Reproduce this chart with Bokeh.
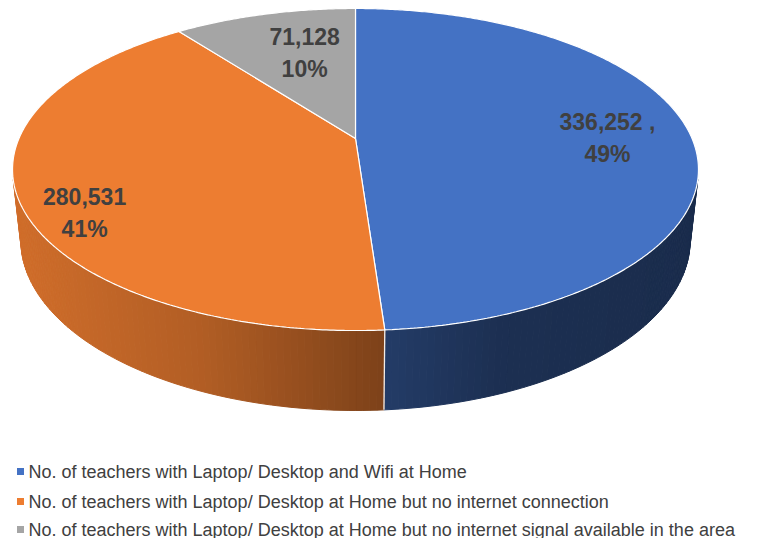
import numpy as np
from bokeh.plotting import figure
from bokeh.models import Range1d, ColumnDataSource
from bokeh.core.properties import value
from bokeh.embed import file_html
from bokeh.resources import INLINE

# ---------------- data ----------------
categories = [
    "No. of teachers with Laptop/ Desktop and Wifi at Home",
    "No. of teachers with Laptop/ Desktop at Home but no internet connection",
    "No. of teachers with Laptop/ Desktop at Home but no internet signal available in the area",
]
counts = [336252, 280531, 71128]
count_suffix = [" ,", "", ""]
colors = ["#4472C4", "#ED7D31", "#A5A5A5"]

# ---------------- style / geometry ----------------
W, H_FIG = 742, 538
CX, CY = 355.0, 138.0          # projected pie centre (screen px)
F, D = 1551.5, 4.61            # perspective constants
ALPHA = np.arcsin(0.4607)      # tilt
DEPTH = 0.2378                 # cylinder height (radius = 1)
ca, sa = np.cos(ALPHA), np.sin(ALPHA)
label_r = 0.75
label_nudge = [(1, 4), (-22, 31), (20, 11)]
FONT = "Liberation Sans"
TXT = "#404040"


def proj(theta, r=1.0, y=0.0):
    X = r * np.sin(theta)
    Z = r * np.cos(theta)
    depth = D + Z * ca - y * sa
    sx = CX + F * X / depth
    sy = CY - F * (y * ca + Z * sa) / depth
    return sx, sy


def shade(x):
    return np.interp(x, [12, 200, 383, 500, 698], [0.88, 0.75, 0.53, 0.42, 0.39])


def scale_color(hexc, f):
    r, g, b = int(hexc[1:3], 16), int(hexc[3:5], 16), int(hexc[5:7], 16)
    return "#%02x%02x%02x" % (int(r * f), int(g * f), int(b * f))


total = float(sum(counts))
fracs = np.array(counts) / total
ends = np.cumsum(fracs) * 2 * np.pi
starts = ends - fracs * 2 * np.pi

p = figure(width=W, height=H_FIG, output_backend="svg", toolbar_location=None,
           x_range=Range1d(0, W), y_range=Range1d(H_FIG, 0),
           min_border=0, outline_line_color=None)
p.axis.visible = False
p.grid.visible = False
p.background_fill_color = "white"

# ---- side wall strips ----
wx, wy, wc = [], [], []
for s, e, c in zip(starts, ends, colors):
    n = max(2, int(np.degrees(e - s)))
    th = np.linspace(s, e, n + 1)
    for a, b in zip(th[:-1], th[1:]):
        pax, pay = proj(a)
        pbx, pby = proj(b)
        qax, qay = proj(a, y=-DEPTH)
        qbx, qby = proj(b, y=-DEPTH)
        cross = (pbx - pax) * (qay - pay) - (pby - pay) * (qax - pax)
        if cross < 0:
            wx.append([pax, pbx, qbx, qax])
            wy.append([pay, pby, qby, qay])
            wc.append(scale_color(c, shade((pax + pbx) / 2)))
p.patches(xs="xs", ys="ys", source=ColumnDataSource(dict(xs=wx, ys=wy, c=wc)),
          fill_color="c", line_color="c", line_width=1)

# white edge where slices meet on the visible wall
for b in starts:
    tx, ty = proj(b)
    bx, by = proj(b, y=-DEPTH)
    ax_, ay_ = proj(b + 0.01)
    cross = (ax_ - tx) * (by - ty) - (ay_ - ty) * (bx - tx)
    if cross < 0:
        p.line([tx, bx], [ty, by], line_color="white", line_width=1.3, line_alpha=0.9)

# ---- top face ----
tx_list, ty_list = [], []
for s, e in zip(starts, ends):
    n = max(2, int(np.degrees(e - s)) * 2)
    th = np.linspace(s, e, n + 1)
    xs, ys = proj(th)
    tx_list.append([CX] + list(xs))
    ty_list.append([CY] + list(ys))
p.patches(xs="xs", ys="ys",
          source=ColumnDataSource(dict(xs=tx_list, ys=ty_list, c=colors)),
          fill_color="c", line_color="white", line_width=1.2)

# ---- data labels ----
lx, ly1, ly2, t1, t2 = [], [], [], [], []
for i, (s, e) in enumerate(zip(starts, ends)):
    mx, my = proj((s + e) / 2, r=label_r)
    mx += label_nudge[i][0]
    my += label_nudge[i][1]
    lx.append(mx)
    ly1.append(my - 16)
    ly2.append(my + 16)
    t1.append(f"{counts[i]:,}" + count_suffix[i])
    t2.append(f"{round(100 * fracs[i])}%")
for yy, tt in ((ly1, t1), (ly2, t2)):
    p.text(x=lx, y=yy, text=tt, text_font=value(FONT), text_font_size="23px",
           text_font_style="bold", text_color=TXT, text_align="center",
           text_baseline="middle")

# ---- legend ----
leg_y = [471, 501, 529]
p.scatter(x=[20] * 3, y=leg_y, marker="square", size=7, fill_color=colors,
          line_color=None)
p.text(x=[28] * 3, y=leg_y, text=categories, text_font=value(FONT),
       text_font_size="18px", text_color=TXT, text_align="left",
       text_baseline="middle")

open("out.html", "w").write(file_html(p, INLINE))
